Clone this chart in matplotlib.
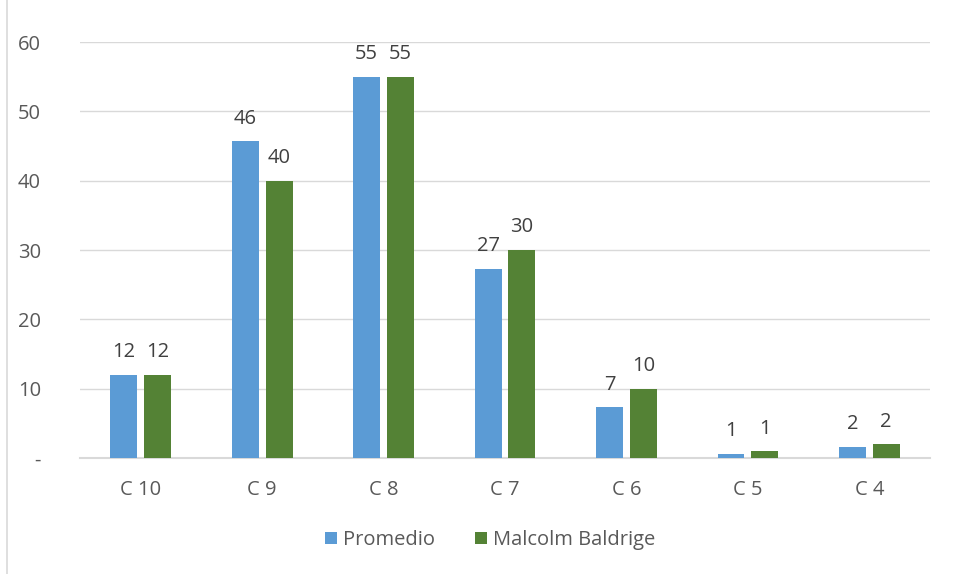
import matplotlib.pyplot as plt
import numpy as np
from matplotlib.lines import Line2D

categories = ["C 10", "C 9", "C 8", "C 7", "C 6", "C 5", "C 4"]
promedio = [12, 45.7, 55, 27.3, 7.3, 0.6, 1.6]
baldrige = [12, 40, 55, 30, 10, 1, 2]
y_ticks = [0, 10, 20, 30, 40, 50, 60]
y_tick_labels = ["-", "10", "20", "30", "40", "50", "60"]

plt.rcParams['font.family'] = ['Open Sans', 'DejaVu Sans']

blue = "#5b9bd5"
green = "#548235"
fs = 14.5

fig = plt.figure(figsize=(9.55, 5.74), dpi=100)
ax = fig.add_axes([80 / 955, 1 - 458 / 574, 850 / 955, 416 / 574])

x = np.arange(len(categories))
w = 0.222
off = 0.139
b1 = ax.bar(x - off, promedio, w, color=blue, label="Promedio", zorder=3)
b2 = ax.bar(x + off, baldrige, w, color=green, label="Malcolm Baldrige", zorder=3)

for bars, vals in ((b1, promedio), (b2, baldrige)):
    for rect, v in zip(bars, vals):
        ax.annotate(f"{v:.0f}", (rect.get_x() + rect.get_width() / 2, v),
                    xytext=(0, 9), textcoords="offset points",
                    ha="center", va="bottom", fontsize=fs, color="#404040")

ax.set_xlim(-0.5, len(categories) - 0.5)
ax.set_ylim(0, 60)
ax.set_yticks(y_ticks)
ax.set_yticklabels(y_tick_labels)
ax.set_xticks(x)
ax.set_xticklabels(categories)
ax.tick_params(axis="both", length=0, labelsize=fs, colors="#595959")
ax.tick_params(axis="y", pad=28)
ax.tick_params(axis="x", pad=16)
for lbl in ax.get_yticklabels():
    lbl.set_horizontalalignment("right")

ax.grid(axis="y", color="#d9d9d9", linewidth=1, zorder=0)
for s in ("top", "right", "left"):
    ax.spines[s].set_visible(False)
ax.spines["bottom"].set_color("#d9d9d9")
ax.spines["bottom"].set_linewidth(1.5)

leg = fig.legend(loc="center", bbox_to_anchor=(490 / 955, 1 - 540 / 574), ncol=2,
                 frameon=False, fontsize=fs, handlelength=0.6, handleheight=0.6,
                 handletextpad=0.3, columnspacing=2.0)
for t in leg.get_texts():
    t.set_color("#595959")

# thin frame line on the left edge
fig.add_artist(Line2D([7 / 955, 7 / 955], [0, 1], color="#d9d9d9", linewidth=1.2,
                      transform=fig.transFigure))

fig.savefig("out.png", dpi=100, facecolor="white")
